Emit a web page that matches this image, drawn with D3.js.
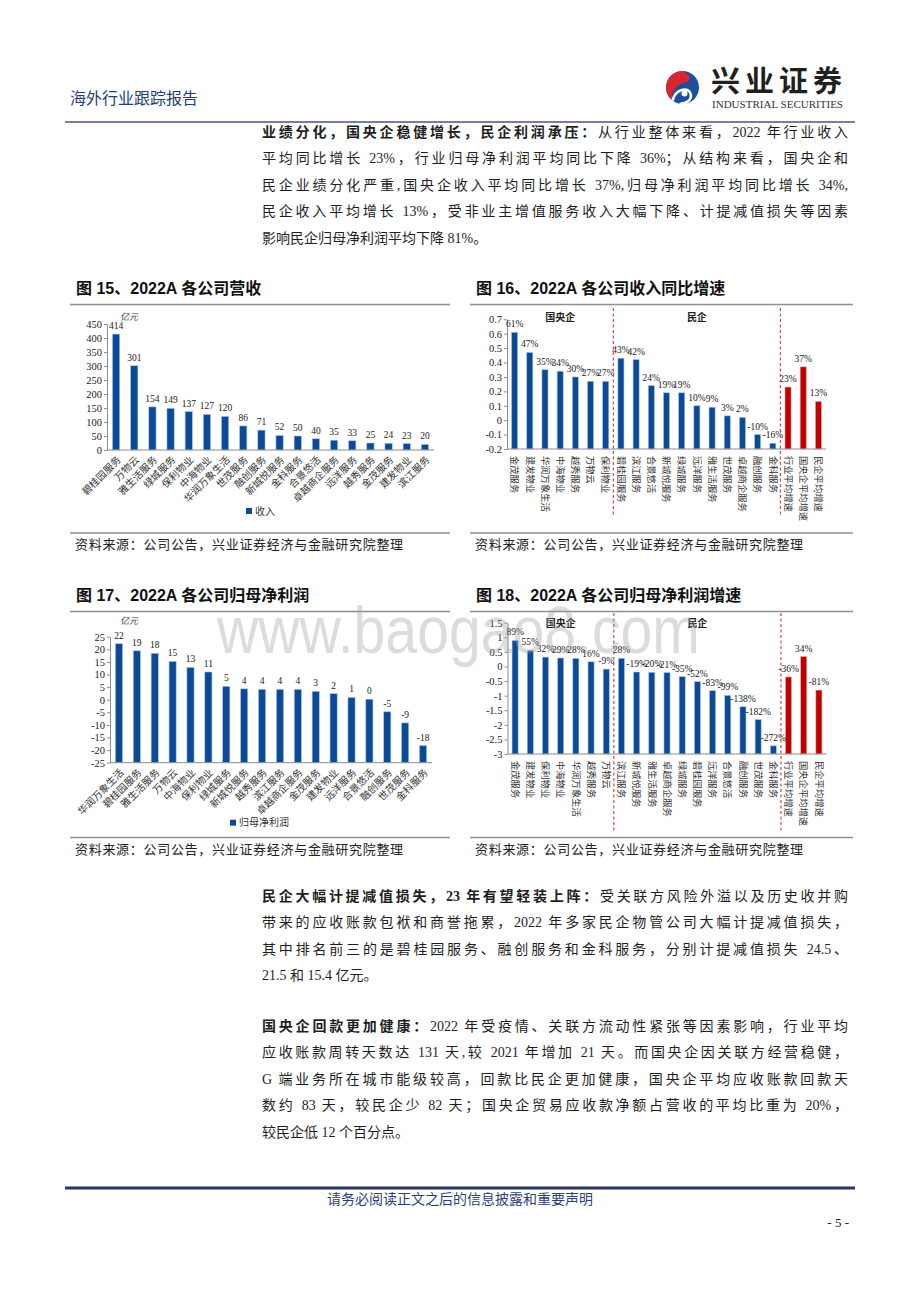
<!DOCTYPE html>
<html lang="zh-CN">
<head>
<meta charset="UTF-8">
<title>海外行业跟踪报告</title>
<script src="https://d3js.org/d3.v7.min.js"></script>
<style>
  body { margin: 0; background: #fff; }
  #page { position: relative; width: 920px; height: 1302px; overflow: hidden; }
  #page svg { position: absolute; left: 0; top: 0; }
  .ln { position: absolute; left: 262px; width: 586px; height: 26px; line-height: 26px;
        font-family: "Liberation Serif", "Noto Sans CJK SC", serif; font-size: 14px; color: #1e1e1e;
        text-align: justify; text-align-last: justify; }
  .ln.end { text-align-last: left; }
  .ln b { font-weight: 700; }
</style>
</head>
<body>
<div id="page"></div>
<script>
// 图15 各公司营收（亿元）
const revCats = ["碧桂园服务", "万物云", "雅生活服务", "绿城服务", "保利物业", "中海物业", "华润万象生活", "世茂服务", "融创服务",
  "新城悦服务", "金科服务", "合景悠活", "卓越商企服务", "远洋服务", "越秀服务", "金茂服务", "建发物业", "滨江服务"];
const revVals = [414, 301, 154, 149, 137, 127, 120, 86, 71, 52, 50, 40, 35, 33, 25, 24, 23, 20];
const revTicks = [0, 50, 100, 150, 200, 250, 300, 350, 400, 450];

// 图16 收入同比增速
const revGrowthCats = ["金茂服务", "建发物业", "华润万象生活", "中海物业", "越秀服务", "万物云", "保利物业",
  "碧桂园服务", "滨江服务", "合景悠活", "新城悦服务", "绿城服务", "远洋服务", "雅生活服务", "世茂服务", "卓越商企服务", "融创服务", "金科服务",
  "行业平均增速", "国央企平均增速", "民企平均增速"];
const revGrowthVals = [0.61, 0.47, 0.35, 0.34, 0.30, 0.27, 0.27,
  0.43, 0.42, 0.24, 0.19, 0.19, 0.10, 0.09, 0.03, 0.02, -0.10, -0.16,
  0.23, 0.37, 0.13];
const revGrowthTicks = [-0.2, -0.1, 0, 0.1, 0.2, 0.3, 0.4, 0.5, 0.6, 0.7];

// 图17 归母净利润（亿元）
const profitCats = ["华润万象生活", "碧桂园服务", "雅生活服务", "万物云", "中海物业", "保利物业", "绿城服务", "新城悦服务", "越秀服务",
  "滨江服务", "卓越商企服务", "金茂服务", "建发物业", "远洋服务", "合景悠活", "融创服务", "世茂服务", "金科服务"];
const profitVals = [22.2, 19.4, 18.4, 15.2, 12.8, 11.0, 5.3, 4.3, 4.1, 4.1, 4.1, 3.3, 2.4, 0.9, 0.2, -4.8, -9.2, -18.2];
const profitTicks = [-25, -20, -15, -10, -5, 0, 5, 10, 15, 20, 25];

// 图18 归母净利润增速
const profitGrowthCats = ["金茂服务", "建发物业", "保利物业", "中海物业", "华润万象生活", "越秀服务", "万物云",
  "滨江服务", "新城悦服务", "雅生活服务", "卓越商企服务", "绿城服务", "碧桂园服务", "远洋服务", "合景悠活", "融创服务", "世茂服务", "金科服务",
  "行业平均增速", "国央企平均增速", "民企平均增速"];
const profitGrowthVals = [0.89, 0.55, 0.32, 0.29, 0.28, 0.16, -0.09,
  0.28, -0.19, -0.20, -0.21, -0.35, -0.52, -0.83, -0.99, -1.38, -1.82, -2.72,
  -0.36, 0.34, -0.81];
const profitGrowthTicks = [-3, -2.5, -2, -1.5, -1, -0.5, 0, 0.5, 1, 1.5];

const groupNames = ["国央企", "民企"];
const groupStarts = [7, 18];   // 民企、平均值 的起始序号
const avgStart = 18;           // 平均值用红色

const para1 = [
  "<b>业绩分化，国央企稳健增长，民企利润承压：</b>从行业整体来看，2022 年行业收入",
  "平均同比增长 23%，行业归母净利润平均同比下降 36%；从结构来看，国央企和",
  "民企业绩分化严重,国央企收入平均同比增长 37%,归母净利润平均同比增长 34%,",
  "民企收入平均增长 13%，受非业主增值服务收入大幅下降、计提减值损失等因素",
  "影响民企归母净利润平均下降 81%。"
];
const para2 = [
  "<b>民企大幅计提减值损失，23 年有望轻装上阵：</b>受关联方风险外溢以及历史收并购",
  "带来的应收账款包袱和商誉拖累，2022 年多家民企物管公司大幅计提减值损失，",
  "其中排名前三的是碧桂园服务、融创服务和金科服务，分别计提减值损失 24.5、",
  "21.5 和 15.4 亿元。"
];
const para3 = [
  "<b>国央企回款更加健康：</b>2022 年受疫情、关联方流动性紧张等因素影响，行业平均",
  "应收账款周转天数达 131 天,较 2021 年增加 21 天。而国央企因关联方经营稳健，",
  "G 端业务所在城市能级较高，回款比民企更加健康，国央企平均应收账款回款天",
  "数约 83 天，较民企少 82 天；国央企贸易应收款净额占营收的平均比重为 20%，",
  "较民企低 12 个百分点。"
];

const loc = d3.formatLocale({ decimal: ".", thousands: ",", grouping: [3], currency: ["", ""], minus: "-" });
const BLUE = "#0c4a97", RED = "#c00000";
const serif = '"Liberation Serif", "Noto Sans CJK SC", serif';
const cjk = '"Noto Sans CJK SC", sans-serif';
const W = 920, H = 1302;

const page = d3.select("#page");
const svg = page.append("svg").attr("width", W).attr("height", H);

// header
svg.append("text").attr("x", 70).attr("y", 104).attr("font-family", cjk).attr("font-size", 16)
  .attr("fill", "#24407a").text("海外行业跟踪报告");
const logo = svg.append("g").attr("transform", "translate(682.5,87.5)");
logo.append("circle").attr("r", 16.5).attr("fill", "#1d4f9f");
logo.append("path").attr("d", "M0,-16.5 A16.5,16.5 0 0 0 -10,13.1 C-12,3 -5,-4 3,-5 C9,-6 9,-12 0,-16.5Z").attr("fill", "#d8262e");
logo.append("path").attr("d", "M-10,13.1 C-7,1 6,-1 8,6 C10,12 4,16.5 -3,16.2").attr("fill", "none")
  .attr("stroke", "#fff").attr("stroke-width", 2.6);
logo.append("circle").attr("cx", 2).attr("cy", 6).attr("r", 3).attr("fill", "#fff");
svg.append("text").attr("x", 711).attr("y", 92).attr("font-family", cjk).attr("font-weight", 700)
  .attr("font-size", 29).attr("letter-spacing", 5).attr("fill", "#231f20").text("兴业证券");
svg.append("text").attr("x", 712).attr("y", 107.5).attr("font-family", serif).attr("font-size", 10.5)
  .attr("textLength", 131).attr("lengthAdjust", "spacingAndGlyphs").attr("fill", "#333").text("INDUSTRIAL SECURITIES");
svg.append("line").attr("x1", 65).attr("x2", 855).attr("y1", 122).attr("y2", 122)
  .attr("stroke", "#4a5580").attr("stroke-width", 1.5);

// paragraphs
function paragraph(lines, top) {
  lines.forEach((t, i) => {
    page.append("div").attr("class", "ln" + (i === lines.length - 1 ? " end" : ""))
      .style("top", (top + i * 26.4 - 13) + "px").html(t);
  });
}
paragraph(para1, 133);
paragraph(para2, 897);
paragraph(para3, 1027);

// chart frames
function frame(x0, x1, title, yTitle, yTop, yBottom) {
  svg.append("text").attr("x", x0 + 6).attr("y", yTitle).attr("font-family", '"Liberation Sans", "Noto Sans CJK SC", sans-serif')
    .attr("font-weight", 700).attr("font-size", 16).attr("fill", "#111").text(title);
  [yTop, yBottom].forEach(yy => svg.append("line").attr("x1", x0).attr("x2", x1).attr("y1", yy).attr("y2", yy)
    .attr("stroke", "#8f8f8f").attr("stroke-width", 1.6));
  svg.append("text").attr("x", x0 + 5).attr("y", yBottom + 16).attr("font-family", serif).attr("font-size", 13)
    .attr("letter-spacing", 0.7).attr("fill", "#222").text("资料来源：公司公告，兴业证券经济与金融研究院整理");
}
frame(70, 450, "图 15、2022A 各公司营收", 294, 304.5, 533);
frame(470, 853, "图 16、2022A 各公司收入同比增速", 294, 304.5, 533);
frame(70, 450, "图 17、2022A 各公司归母净利润", 601, 611.5, 837.5);
frame(470, 853, "图 18、2022A 各公司归母净利润增速", 601, 611.5, 837.5);

function barChart(o) {
  const g = svg.append("g");
  const x = d3.scaleBand().domain(o.cats).range(o.xr).paddingInner(0.6).paddingOuter(0.3);
  const y = d3.scaleLinear().domain(o.yd).range(o.yr);
  const yBase = y(o.yd[0]);   // bars rise from the bottom of the value axis
  const cx = d => x(d) + x.bandwidth() / 2;
  const red = i => o.redFrom !== undefined && i >= o.redFrom;

  g.selectAll(".bar").data(o.vals).join("rect").attr("class", "bar")
    .attr("x", (d, i) => x(o.cats[i]))
    .attr("y", d => y(d))
    .attr("width", x.bandwidth())
    .attr("height", d => yBase - y(d))
    .attr("fill", (d, i) => red(i) ? RED : BLUE)
    .attr("stroke", (d, i) => red(i) ? "#f3a9a9" : "#a3c6ee")
    .attr("stroke-width", 0.6);

  const ax = g.append("g").attr("transform", `translate(${o.xr[0]},0)`)
    .call(d3.axisLeft(y).tickValues(o.ticks).tickSize(3).tickSizeOuter(0).tickFormat(o.tickFmt));
  ax.select(".domain").attr("stroke", "#8c8c8c");
  ax.selectAll(".tick line").attr("stroke", "#8c8c8c");
  ax.selectAll(".tick text").attr("x", -5).attr("font-family", serif).attr("font-size", 10.5).attr("fill", "#222");
  g.append("line").attr("x1", o.xr[0]).attr("x2", o.xr[1]).attr("y1", yBase).attr("y2", yBase).attr("stroke", "#8c8c8c");

  g.selectAll(".val").data(o.vals).join("text").attr("class", "val")
    .attr("x", (d, i) => cx(o.cats[i]))
    .attr("y", d => y(d) - 5)
    .attr("text-anchor", "middle").attr("font-family", serif).attr("font-size", 9.5).attr("fill", "#222")
    .text(o.valFmt);

  if (o.vertical) {
    g.selectAll(".xl").data(o.cats).join("text").attr("class", "xl")
      .attr("transform", d => `translate(${cx(d)},${yBase + 7}) rotate(90)`)
      .attr("dy", "0.35em")
      .attr("font-family", cjk).attr("font-size", 9.3).attr("fill", "#333")
      .text(d => d);
  } else {
    g.selectAll(".xl").data(o.cats).join("text").attr("class", "xl")
      .attr("transform", d => `translate(${cx(d) + 3},${yBase + 8}) rotate(-45)`)
      .attr("text-anchor", "end").attr("dy", "0.35em")
      .attr("font-family", cjk).attr("font-size", 10).attr("fill", "#333")
      .text(d => d);
  }

  if (o.groups) {
    const bounds = groupStarts.map(s => (x(o.cats[s - 1]) + x.bandwidth() + x(o.cats[s])) / 2);
    g.selectAll(".div").data(bounds).join("line").attr("class", "div")
      .attr("x1", d => d).attr("x2", d => d).attr("y1", o.divY[0]).attr("y2", o.divY[1])
      .attr("stroke", "#c0504d").attr("stroke-width", 1.2).attr("stroke-dasharray", "3,2.5");
    const edges = [o.xr[0], ...bounds];
    g.selectAll(".grp").data(groupNames).join("text").attr("class", "grp")
      .attr("x", (d, i) => (edges[i] + edges[i + 1]) / 2).attr("y", o.grpY)
      .attr("text-anchor", "middle").attr("font-family", cjk).attr("font-weight", 700)
      .attr("font-size", 10).attr("fill", "#222").text(d => d);
  }

  if (o.unit) {
    g.append("text").attr("x", o.unit[0]).attr("y", o.unit[1]).attr("text-anchor", "middle")
      .attr("font-family", cjk).attr("font-size", 9).attr("font-style", "italic").attr("fill", "#333").text("亿元");
  }
  if (o.legend) {
    const lg = g.append("g").attr("transform", `translate(${o.legend.at[0]},${o.legend.at[1]})`);
    lg.append("rect").attr("x", -3).attr("y", -3).attr("width", 6).attr("height", 6).attr("fill", BLUE);
    lg.append("text").attr("x", 6).attr("dy", "0.35em").attr("font-family", cjk).attr("font-size", 10)
      .attr("fill", "#333").text(o.legend.text);
  }
}

barChart({
  cats: revCats, vals: revVals, ticks: revTicks, xr: [107, 434], yd: [0, 450], yr: [450, 324],
  tickFmt: loc.format("d"), valFmt: loc.format("d"), unit: [129, 320],
  legend: { at: [249, 511], text: "收入" }
});
barChart({
  cats: revGrowthCats, vals: revGrowthVals, ticks: revGrowthTicks, xr: [507, 826], yd: [-0.2, 0.7], yr: [449, 319.3],
  tickFmt: loc.format(".1~f"), valFmt: loc.format(".0%"), vertical: true, redFrom: avgStart,
  groups: true, divY: [308, 517], grpY: 321
});
barChart({
  cats: profitCats, vals: profitVals, ticks: profitTicks, xr: [110, 432], yd: [-25, 25], yr: [762.7, 636.7],
  tickFmt: loc.format("d"), valFmt: loc.format(".0f"), unit: [129, 624],
  legend: { at: [233, 822.7], text: "归母净利润" }
});
barChart({
  cats: profitGrowthCats, vals: profitGrowthVals, ticks: profitGrowthTicks, xr: [507.5, 826.5], yd: [-3, 1.5], yr: [754, 622.7],
  tickFmt: loc.format(".1~f"), valFmt: loc.format(".0%"), vertical: true, redFrom: avgStart,
  groups: true, divY: [613, 832], grpY: 627
});

// watermark
svg.append("text").attr("x", 217).attr("y", 653).attr("font-family", '"Liberation Sans", sans-serif')
  .attr("font-size", 66).attr("textLength", 483).attr("lengthAdjust", "spacingAndGlyphs")
  .attr("fill", "#9a9a9a").attr("fill-opacity", 0.35).text("www.baogao8.com");

// footer
svg.append("line").attr("x1", 65).attr("x2", 855).attr("y1", 1188).attr("y2", 1188)
  .attr("stroke", "#2d3566").attr("stroke-width", 3);
svg.append("text").attr("x", 460).attr("y", 1204).attr("text-anchor", "middle").attr("font-family", cjk)
  .attr("font-size", 14).attr("fill", "#2c3f7c").text("请务必阅读正文之后的信息披露和重要声明");
svg.append("text").attr("x", 849).attr("y", 1227).attr("text-anchor", "end").attr("font-family", serif)
  .attr("font-size", 13).attr("fill", "#222").text("- 5 -");
</script>
</body>
</html>
